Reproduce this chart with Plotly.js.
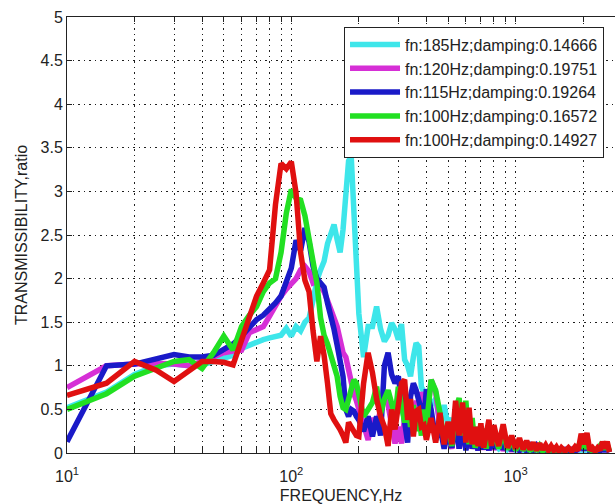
<!DOCTYPE html>
<html>
<head>
<meta charset="utf-8">
<script src="https://cdn.plot.ly/plotly-3.0.1.min.js"></script>
<style>html,body{margin:0;padding:0;background:#fff;}#chart{width:616px;height:504px;}</style>
</head>
<body>
<div id="chart"></div>
<script>
// Frequency bins (Hz)
const freq = [10,15,20,25,30,35,40,45,50,55,60,65,70,75,80,85,90,95,100,105,110,115,120,125,130,135,140,145,150,155,160,165,170,175,180,185,190,195,200,
  210,220,230,240,250,260,270,280,290,300,310,320,330,340,350,360,370,380,390,400,
  420,440,460,480,500,520,540,560,580,600,620,640,660,680,700,720,740,760,780,800,
  840,880,920,960,1000,1040,1080,1120,1160,1200,1240,1280,1320,1360,1400,1440,1480,1520,1560,1600,
  1660,1720,1780,1840,1900,1960,2020,2080,2140,2200,2260,2320,2380,2440,2500,2560,2620];

const seriesNames = ['fn:185Hz;damping:0.14666','fn:120Hz;damping:0.19751','fn:115Hz;damping:0.19264','fn:100Hz;damping:0.16572','fn:100Hz;damping:0.14927'];

const cyan185 = [0.52,0.7,0.9,1.0,1.02,1.0,1.01,1.05,1.08,1.12,1.2,1.24,1.28,1.3,1.32,1.33,1.35,1.43,1.34,1.45,1.4,1.5,1.55,1.75,1.98,2.1,2.2,2.4,2.5,2.62,2.45,2.3,2.56,2.95,3.35,3.4,2.85,2.25,1.6,
  1.1,1.45,1.45,1.68,1.42,1.28,1.35,1.49,1.42,1.3,1.48,1.07,1.0,0.88,1.1,1.26,1.22,0.76,0.7,0.62,
  0.55,0.62,0.35,0.55,0.3,0.4,0.2,0.3,0.15,0.25,0.1,0.2,0.08,0.18,0.06,0.15,0.05,0.12,0.05,0.1,
  0.05,0.1,0.04,0.08,0.03,0.07,0.03,0.06,0.02,0.05,0.02,0.05,0.02,0.04,0.02,0.04,0.02,0.04,0.02,0.03,
  0.02,0.03,0.02,0.03,0.02,0.05,0.02,0.05,0.02,0.03,0.02,0.03,0.02,0.04,0.02,0.04,0.01];

const magenta120 = [0.75,1.0,1.02,1.03,1.02,1.0,1.05,1.1,1.15,1.17,1.18,1.38,1.42,1.45,1.57,1.7,1.8,1.88,1.95,2.0,2.1,2.14,2.08,1.95,1.97,1.92,1.85,1.75,1.62,1.55,1.45,1.26,1.15,1.1,0.95,0.8,0.68,0.6,0.5,
  0.35,0.15,0.4,0.3,0.5,0.7,0.55,0.35,0.11,0.3,0.11,0.4,0.3,0.55,0.4,0.6,0.45,0.7,0.55,0.35,
  0.84,0.7,0.3,0.1,0.2,0.05,0.35,0.05,0.3,0.04,0.25,0.05,0.2,0.03,0.2,0.04,0.15,0.03,0.15,0.04,
  0.15,0.03,0.12,0.02,0.1,0.02,0.08,0.02,0.07,0.02,0.06,0.02,0.05,0.02,0.05,0.02,0.04,0.02,0.04,0.02,
  0.04,0.02,0.04,0.02,0.04,0.1,0.03,0.12,0.02,0.04,0.02,0.04,0.02,0.07,0.02,0.07,0.01];

const blue115 = [0.13,1.0,1.02,1.08,1.13,1.1,1.1,1.12,1.18,1.25,1.34,1.43,1.53,1.58,1.65,1.72,1.8,1.95,2.12,2.44,2.32,2.58,2.42,2.14,2.0,1.95,1.9,1.72,1.58,1.42,1.24,1.05,0.88,0.5,0.42,0.5,0.48,0.42,0.38,
  0.25,0.42,0.19,0.42,0.2,1.0,1.15,0.9,0.8,0.88,0.6,0.35,0.12,0.65,0.8,0.72,0.6,0.5,0.38,0.73,
  0.5,0.15,0.3,0.05,0.25,0.06,0.4,0.05,0.35,0.03,0.3,0.05,0.2,0.03,0.25,0.04,0.18,0.03,0.2,0.05,
  0.2,0.04,0.15,0.03,0.1,0.03,0.1,0.02,0.08,0.02,0.08,0.02,0.06,0.02,0.05,0.02,0.05,0.02,0.04,0.02,
  0.04,0.02,0.04,0.02,0.05,0.12,0.03,0.15,0.02,0.04,0.02,0.04,0.03,0.08,0.02,0.08,0.01];

const green100 = [0.5,0.68,0.88,0.98,1.05,1.07,0.97,1.15,1.34,1.18,1.45,1.58,1.68,1.85,1.95,2.0,2.3,2.75,3.02,2.92,2.9,2.72,2.45,2.2,1.95,1.55,1.35,1.25,1.12,0.98,0.88,0.65,0.52,0.5,0.62,0.78,0.84,0.8,0.66,
  0.42,0.5,0.58,0.76,0.45,0.62,0.72,0.57,0.42,0.76,0.55,0.35,0.6,0.3,0.55,0.25,0.45,0.2,0.5,0.3,
  0.84,0.72,0.46,0.15,0.3,0.08,0.5,0.63,0.2,0.6,0.1,0.4,0.06,0.3,0.1,0.28,0.05,0.3,0.1,0.25,
  0.05,0.25,0.04,0.15,0.03,0.12,0.03,0.1,0.02,0.09,0.02,0.08,0.02,0.07,0.02,0.06,0.02,0.05,0.02,0.05,
  0.02,0.05,0.03,0.05,0.07,0.15,0.05,0.18,0.02,0.05,0.02,0.05,0.1,0.12,0.04,0.1,0.02];

const red100 = [0.66,0.8,1.05,0.95,0.82,0.95,1.05,1.05,1.04,1.01,1.3,1.6,1.8,1.95,2.1,2.85,3.32,3.26,3.34,2.98,2.3,1.98,1.85,1.4,1.05,1.34,1.12,0.8,0.45,0.38,0.33,0.27,0.2,0.12,0.35,0.3,0.27,0.2,0.19,
  0.8,1.15,0.92,0.62,0.42,0.3,0.08,0.5,0.27,0.55,0.8,0.84,0.38,0.62,0.19,0.48,0.5,0.3,0.32,0.15,
  0.4,0.12,0.46,0.1,0.36,0.1,0.6,0.2,0.58,0.12,0.52,0.1,0.3,0.08,0.34,0.06,0.22,0.38,0.08,0.32,
  0.08,0.33,0.06,0.2,0.05,0.17,0.04,0.14,0.04,0.12,0.03,0.11,0.04,0.09,0.03,0.08,0.03,0.07,0.02,0.06,
  0.02,0.06,0.02,0.07,0.03,0.22,0.1,0.23,0.03,0.06,0.02,0.06,0.03,0.13,0.05,0.13,0.01];

const seriesValues = [cyan185, magenta120, blue115, green100, red100];
const seriesColors = ['#3EE6EA','#D62FD6','#1A1AC8','#22E022','#E01010'];

// Axis ticks
const xTickVals = [10,20,30,40,50,60,70,80,90,100,200,300,400,500,600,700,800,900,1000,2000];
const xTickText = ['10<sup>1</sup>','','','','','','','','','10<sup>2</sup>','','','','','','','','','10<sup>3</sup>',''];
const yTickVals = [0,0.5,1,1.5,2,2.5,3,3.5,4,4.5,5];
const yTickText = ['0','0.5','1','1.5','2','2.5','3','3.5','4','4.5','5'];

const FONT = "'Liberation Sans', Arial, sans-serif";

const traces = seriesValues.map((vals, i) => ({
  x: freq, y: vals, type: 'scatter', mode: 'lines', name: seriesNames[i],
  line: {color: seriesColors[i], width: 5.5}
}));

const gridStyle = {showgrid: true, gridcolor: '#1e1e1e', gridwidth: 1, griddash: '1.5px,4px'};

const layout = {
  width: 616, height: 504,
  margin: {l: 67, r: 1, t: 17, b: 51},
  paper_bgcolor: '#ffffff', plot_bgcolor: '#ffffff',
  font: {family: FONT, size: 16, color: '#222'},
  showlegend: true,
  legend: {
    x: 0.5055, y: 0.978, xanchor: 'left', yanchor: 'top',
    bgcolor: '#ffffff', bordercolor: '#222', borderwidth: 1,
    font: {family: FONT, size: 16, color: '#222'},
    itemwidth: 50, tracegroupgap: 0
  },
  xaxis: Object.assign({
    type: 'log', range: [1, 3.443], autorange: false,
    tickmode: 'array', tickvals: xTickVals, ticktext: xTickText,
    ticks: 'inside', ticklen: 5, tickcolor: '#222',
    showline: true, linecolor: '#222', linewidth: 1, mirror: 'ticks',
    zeroline: false, ticklabelstandoff: 9,
    tickfont: {family: FONT, size: 16, color: '#222'},
    title: {text: 'FREQUENCY,Hz', font: {family: FONT, size: 16, color: '#222'}, standoff: 6},
    automargin: false
  }, gridStyle),
  yaxis: Object.assign({
    range: [0, 5], autorange: false,
    tickmode: 'array', tickvals: yTickVals, ticktext: yTickText,
    ticks: 'inside', ticklen: 5, tickcolor: '#222',
    showline: true, linecolor: '#222', linewidth: 1, mirror: false,
    zeroline: false,
    tickfont: {family: FONT, size: 16, color: '#222'},
    title: {text: 'TRANSMISSIBILITY,ratio', font: {family: FONT, size: 16, color: '#222'}, standoff: 8},
    automargin: false
  }, gridStyle)
};

Plotly.newPlot('chart', traces, layout, {displayModeBar: false, staticPlot: true});
</script>
</body>
</html>
